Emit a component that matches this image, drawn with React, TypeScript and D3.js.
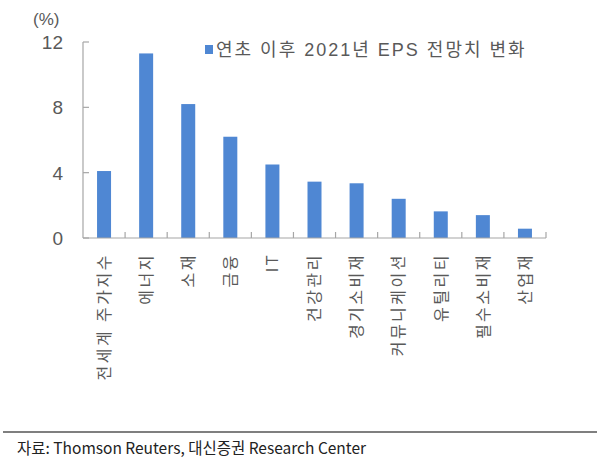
import React, { useEffect, useRef } from "react";
import * as d3 from "d3";

const categories = [
  "전세계 주가지수",
  "에너지",
  "소재",
  "금융",
  "IT",
  "건강관리",
  "경기소비재",
  "커뮤니케이션",
  "유틸리티",
  "필수소비재",
  "산업재",
];
const values = [4.1, 11.3, 8.2, 6.2, 4.5, 3.45, 3.35, 2.4, 1.63, 1.4, 0.57];
const yTicks = [0, 4, 8, 12];
const seriesName = "연초 이후 2021년 EPS 전망치 변화";
const source = "자료: Thomson Reuters, 대신증권 Research Center";

const App = () => {
  const ref = useRef<SVGSVGElement>(null);

  useEffect(() => {
    const width = 600;
    const height = 466;
    const left = 83;
    const right = 546;
    const top = 42;
    const bottom = 238;
    const textColor = "#595959";
    const axisColor = "#a6a6a6";
    const font = "'Liberation Sans', 'Noto Sans CJK KR', sans-serif";

    const svg = d3.select(ref.current);
    svg.selectAll("*").remove();
    svg.attr("width", width).attr("height", height);

    svg.append("rect").attr("width", width).attr("height", height).attr("fill", "#fff");

    const x = d3.scaleBand().domain(categories).range([left, right]);
    const y = d3.scaleLinear().domain([0, 12]).range([bottom, top]);

    // bars
    svg
      .append("g")
      .selectAll("rect")
      .data(values)
      .join("rect")
      .attr("x", (d, i) => x(categories[i])! + x.bandwidth() / 2 - 7)
      .attr("y", (d) => y(d))
      .attr("width", 14)
      .attr("height", (d) => y(0) - y(d))
      .attr("fill", "#4f87d3");

    // y axis
    const yAxis = svg.append("g").attr("stroke", axisColor).attr("stroke-width", 1.2);
    yAxis.append("line").attr("x1", left).attr("x2", left).attr("y1", top).attr("y2", bottom);
    yAxis
      .selectAll("line.t")
      .data(yTicks)
      .join("line")
      .attr("class", "t")
      .attr("x1", left)
      .attr("x2", left + 6)
      .attr("y1", (d) => y(d))
      .attr("y2", (d) => y(d));

    svg
      .append("g")
      .selectAll("text")
      .data(yTicks)
      .join("text")
      .attr("x", 63)
      .attr("y", (d) => y(d))
      .attr("dy", "0.36em")
      .attr("text-anchor", "end")
      .attr("font-family", font)
      .attr("font-size", 19)
      .attr("fill", textColor)
      .text((d) => d);

    svg
      .append("text")
      .attr("x", 33)
      .attr("y", 25)
      .attr("font-family", font)
      .attr("font-size", 17)
      .attr("fill", textColor)
      .text("(%)");

    // x axis
    const xAxis = svg.append("g").attr("stroke", axisColor).attr("stroke-width", 1.2);
    xAxis.append("line").attr("x1", left).attr("x2", right).attr("y1", bottom).attr("y2", bottom);
    const bounds = categories.map((c) => x(c)!).concat([right]).slice(1);
    xAxis
      .selectAll("line.t")
      .data(bounds)
      .join("line")
      .attr("class", "t")
      .attr("x1", (d) => d)
      .attr("x2", (d) => d)
      .attr("y1", bottom)
      .attr("y2", bottom - 6);

    svg
      .append("g")
      .selectAll("text")
      .data(categories)
      .join("text")
      .attr(
        "transform",
        (d) => `translate(${x(d)! + x.bandwidth() / 2},253) rotate(-90)`
      )
      .attr("dy", "0.36em")
      .attr("text-anchor", "end")
      .attr("font-family", font)
      .attr("font-size", 16)
      .attr("letter-spacing", 2.5)
      .attr("fill", textColor)
      .text((d) => d);

    // legend
    svg
      .append("rect")
      .attr("x", 205)
      .attr("y", 45)
      .attr("width", 8)
      .attr("height", 9)
      .attr("fill", "#4f87d3");
    svg
      .append("text")
      .attr("x", 216)
      .attr("y", 50)
      .attr("dy", "0.36em")
      .attr("font-family", font)
      .attr("font-size", 18)
      .attr("letter-spacing", 2)
      .attr("fill", textColor)
      .text(seriesName);

    // footer
    svg
      .append("line")
      .attr("x1", 3)
      .attr("x2", 597)
      .attr("y1", 432)
      .attr("y2", 432)
      .attr("stroke", "#7f7f7f")
      .attr("stroke-width", 2);
    svg
      .append("text")
      .attr("x", 17)
      .attr("y", 454)
      .attr("font-family", "'Noto Sans CJK KR', sans-serif")
      .attr("font-size", 15.5)
      .attr("fill", "#222")
      .text(source);
  }, []);

  return <svg ref={ref} style={{ position: "absolute", left: 0, top: 0 }} />;
};

export default App;
